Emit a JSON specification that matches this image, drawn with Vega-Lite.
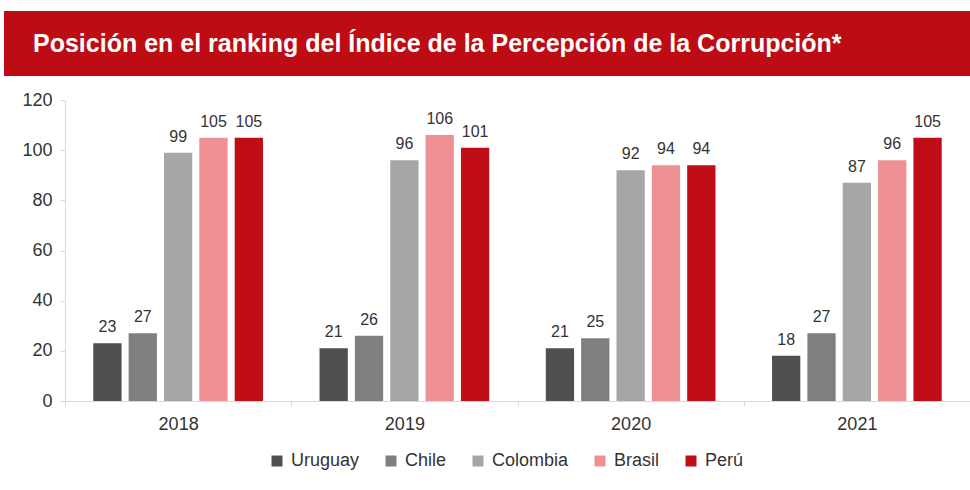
{
  "$schema": "https://vega.github.io/schema/vega-lite/v6.json",
  "padding": {"top": 11, "left": 4, "right": 0, "bottom": 0},
  "background": "white",
  "spacing": 15,
  "config": {
    "font": "Liberation Sans",
    "view": {"stroke": null}
  },
  "data": {
    "values": [
      {"year": "2018", "country": "Uruguay", "rank": 23},
      {"year": "2018", "country": "Chile", "rank": 27},
      {"year": "2018", "country": "Colombia", "rank": 99},
      {"year": "2018", "country": "Brasil", "rank": 105},
      {"year": "2018", "country": "Perú", "rank": 105},
      {"year": "2019", "country": "Uruguay", "rank": 21},
      {"year": "2019", "country": "Chile", "rank": 26},
      {"year": "2019", "country": "Colombia", "rank": 96},
      {"year": "2019", "country": "Brasil", "rank": 106},
      {"year": "2019", "country": "Perú", "rank": 101},
      {"year": "2020", "country": "Uruguay", "rank": 21},
      {"year": "2020", "country": "Chile", "rank": 25},
      {"year": "2020", "country": "Colombia", "rank": 92},
      {"year": "2020", "country": "Brasil", "rank": 94},
      {"year": "2020", "country": "Perú", "rank": 94},
      {"year": "2021", "country": "Uruguay", "rank": 18},
      {"year": "2021", "country": "Chile", "rank": 27},
      {"year": "2021", "country": "Colombia", "rank": 87},
      {"year": "2021", "country": "Brasil", "rank": 96},
      {"year": "2021", "country": "Perú", "rank": 105}
    ]
  },
  "vconcat": [
    {
      "width": 966,
      "height": 65,
      "data": {"values": [{"banner": "Posición en el ranking del Índice de la Percepción de la Corrupción*"}]},
      "title": {
        "text": "Posición en el ranking del Índice de la Percepción de la Corrupción*",
        "anchor": "start",
        "frame": "group",
        "offset": -46,
        "dx": 29,
        "color": "white",
        "fontSize": 25,
        "fontWeight": "bold",
        "font": "Liberation Sans"
      },
      "mark": {"type": "rect", "color": "#BE0C14"},
      "encoding": {}
    },
    {
      "width": 966,
      "height": 301,
      "layer": [
        {
          "mark": {"type": "bar"},
          "encoding": {
            "x": {
              "field": "year", "type": "nominal",
              "scale": {"paddingInner": 0, "paddingOuter": 0, "range": [61, 966]},
              "axis": {
                "title": null, "labelAngle": 0, "labelFontSize": 18, "labelColor": "#333333",
                "domainColor": "#d9d9d9", "tickColor": "#d9d9d9", "tickBand": "extent",
                "tickSize": 5, "labelPadding": 9
              }
            },
            "xOffset": {
              "field": "country", "type": "nominal",
              "sort": ["Uruguay", "Chile", "Colombia", "Brasil", "Perú"],
              "scale": {"paddingInner": 0.2, "paddingOuter": 0.8}
            },
            "y": {
              "field": "rank", "type": "quantitative",
              "scale": {"domain": [0, 120]},
              "axis": {
                "title": null, "values": [0, 20, 40, 60, 80, 100, 120], "grid": false,
                "offset": -61,
                "labelFontSize": 18, "labelColor": "#333333", "domainColor": "#d9d9d9",
                "tickColor": "#d9d9d9", "tickSize": 5, "labelPadding": 8
              }
            },
            "color": {
              "field": "country", "type": "nominal",
              "sort": ["Uruguay", "Chile", "Colombia", "Brasil", "Perú"],
              "scale": {
                "domain": ["Uruguay", "Chile", "Colombia", "Brasil", "Perú"],
                "range": ["#4f4f4f", "#7f7f7f", "#a6a6a6", "#ee8f94", "#c00d17"]
              },
              "legend": {
                "title": null, "orient": "none", "direction": "horizontal",
                "legendX": 264, "legendY": 441,
                "symbolType": "square", "symbolSize": 121, "symbolStrokeWidth": 0,
                "labelFontSize": 18, "labelColor": "#333333", "columnPadding": 22,
                "labelOffset": 5
              }
            }
          }
        },
        {
          "mark": {"type": "text", "baseline": "bottom", "dy": -8, "fontSize": 16, "color": "#333333"},
          "encoding": {
            "x": {"field": "year", "type": "nominal"},
            "xOffset": {"field": "country", "type": "nominal", "sort": ["Uruguay", "Chile", "Colombia", "Brasil", "Perú"]},
            "y": {"field": "rank", "type": "quantitative"},
            "text": {"field": "rank", "type": "quantitative"}
          }
        }
      ]
    }
  ]
}
